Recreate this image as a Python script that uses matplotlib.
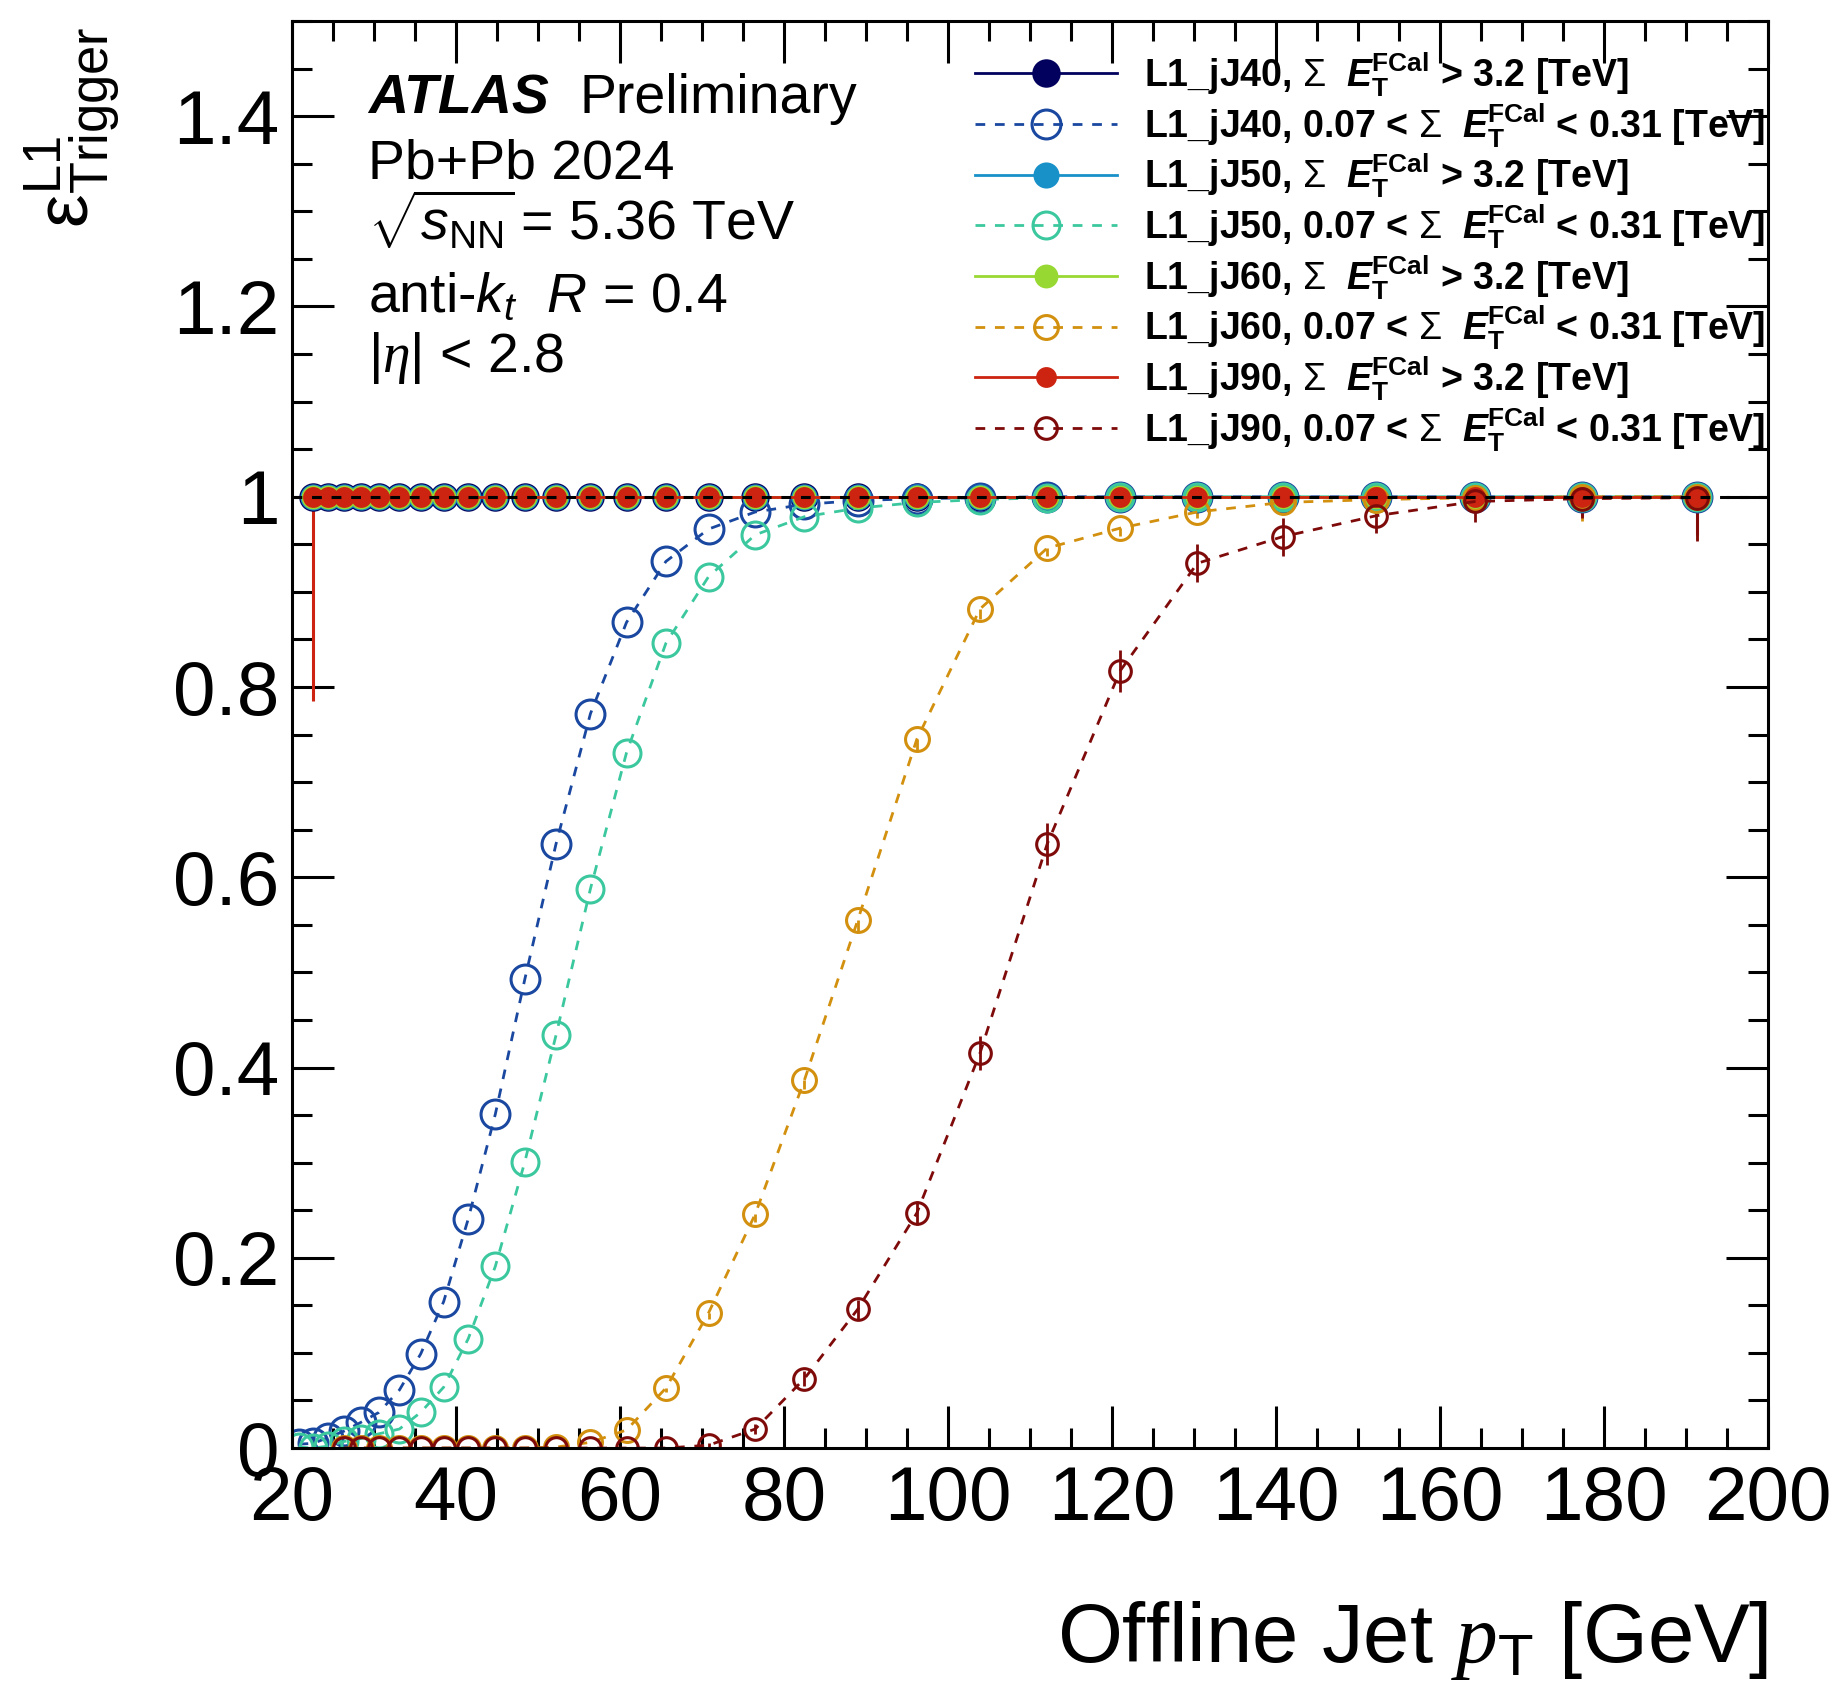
import matplotlib
matplotlib.use("Agg")
import matplotlib.pyplot as plt
from matplotlib.lines import Line2D
from matplotlib.ticker import MultipleLocator, FuncFormatter

plt.rcParams["font.family"] = ["Liberation Sans", "DejaVu Sans"]
plt.rcParams["mathtext.fontset"] = "custom"
plt.rcParams["mathtext.rm"] = "Liberation Sans"
plt.rcParams["mathtext.it"] = "Liberation Sans:italic"
plt.rcParams["mathtext.bf"] = "Liberation Sans:bold"
plt.rcParams["mathtext.bfit"] = "Liberation Sans:italic:bold"
plt.rcParams["mathtext.cal"] = "Liberation Serif:italic"
plt.rcParams["mathtext.sf"] = "Liberation Sans"

# bin centres (GeV)
pt_hi = [22.6, 24.4, 26.4, 28.4, 30.6, 33.1, 35.7, 38.5, 41.5, 44.8, 48.4, 52.2, 56.4, 60.8,
         65.6, 70.8, 76.5, 82.5, 89.0, 96.2, 103.9, 112.1, 121.0, 130.4, 140.8, 152.2,
         164.3, 177.3, 191.4]
pt_lo_40 = [20.8, 22.6, 24.4, 26.4, 28.4, 30.6, 33.1, 35.7, 38.5, 41.5, 44.8, 48.4, 52.2, 56.4,
            60.8, 65.6, 70.8, 76.5, 82.5, 89.0, 96.2, 103.9, 112.1, 121.0, 130.4, 140.8,
            152.2, 164.3, 177.3, 191.4]
pt_lo_60 = [26.4, 28.4, 30.6, 33.1, 35.7, 38.5, 41.5, 44.8, 48.4, 52.2, 56.4, 60.8, 65.6, 70.8,
            76.5, 82.5, 89.0, 96.2, 103.9, 112.1, 121.0, 130.4, 140.8, 152.2, 164.3, 177.3,
            191.4]

# sum ET FCal > 3.2 TeV (central)
eff_j40_hi = [1.0, 1.0, 1.0, 1.0, 1.0, 1.0, 1.0, 1.0, 1.0, 1.0, 1.0, 1.0, 1.0, 1.0, 1.0,
              1.0, 1.0, 1.0, 1.0, 1.0, 1.0, 1.0, 1.0, 1.0, 1.0, 1.0, 1.0, 1.0, 1.0]
eff_j50_hi = [1.0, 1.0, 1.0, 1.0, 1.0, 1.0, 1.0, 1.0, 1.0, 1.0, 1.0, 1.0, 1.0, 1.0, 1.0,
              1.0, 1.0, 1.0, 1.0, 1.0, 1.0, 1.0, 1.0, 1.0, 1.0, 1.0, 1.0, 1.0, 1.0]
eff_j60_hi = [1.0, 1.0, 1.0, 1.0, 1.0, 1.0, 1.0, 1.0, 1.0, 1.0, 1.0, 1.0, 1.0, 1.0, 1.0,
              1.0, 1.0, 1.0, 1.0, 1.0, 1.0, 1.0, 1.0, 1.0, 1.0, 1.0, 1.0, 1.0, 1.0]
eff_j90_hi = [1.0, 1.0, 1.0, 1.0, 1.0, 1.0, 1.0, 1.0, 1.0, 1.0, 1.0, 1.0, 1.0, 1.0, 1.0,
              1.0, 1.0, 1.0, 1.0, 1.0, 1.0, 1.0, 1.0, 1.0, 1.0, 1.0, 1.0, 1.0, 1.0]
err_j90_hi = [0.215, 0, 0, 0, 0, 0, 0, 0, 0, 0, 0, 0, 0, 0, 0, 0, 0, 0, 0, 0, 0, 0, 0, 0,
              0, 0, 0.01, 0.02, 0.04]

# 0.07 < sum ET FCal < 0.31 TeV (peripheral)
eff_j40_lo = [0.004, 0.005, 0.011, 0.018, 0.027, 0.0375, 0.061, 0.099, 0.154, 0.241, 0.351,
              0.493, 0.635, 0.772, 0.868, 0.932, 0.966, 0.984, 0.992, 0.996, 0.998, 0.999,
              1.0, 1.0, 1.0, 1.0, 1.0, 1.0, 1.0, 1.0]
eff_j50_lo = [0.001, 0.0, 0.002, 0.007, 0.010, 0.015, 0.020, 0.0375, 0.064, 0.115, 0.191,
              0.301, 0.434, 0.588, 0.731, 0.846, 0.916, 0.960, 0.979, 0.988, 0.994, 0.997,
              0.999, 1.0, 1.0, 1.0, 1.0, 1.0, 1.0, 1.0]
eff_j60_lo = [0.0, 0.0, 0.0, 0.0, 0.0, 0.0, 0.0, 0.0, 0.0, 0.001, 0.006, 0.019, 0.063, 0.142,
              0.246, 0.387, 0.555, 0.745, 0.882, 0.946, 0.967, 0.984, 0.994, 0.997, 0.999,
              1.0, 1.0]
eff_j90_lo = [0.0, 0.0, 0.0, 0.0, 0.0, 0.0, 0.0, 0.0, 0.0, 0.0, 0.0, 0.0, 0.0, 0.003, 0.02,
              0.073, 0.146, 0.247, 0.415, 0.635, 0.817, 0.930, 0.958, 0.980, 0.995, 0.998,
              0.999]
err_j40_lo = [0, 0, 0, 0, 0, 0, 0, 0, 0, 0, 0, 0, 0, 0, 0, 0, 0, 0, 0, 0, 0, 0, 0, 0, 0,
              0, 0, 0.01, 0.02, 0.03]
err_j50_lo = [0, 0, 0, 0, 0, 0, 0, 0, 0, 0, 0, 0, 0, 0, 0, 0, 0, 0, 0, 0, 0, 0, 0, 0, 0,
              0, 0, 0.01, 0.02, 0.035]
err_j60_lo = [0, 0, 0, 0, 0, 0, 0, 0, 0, 0, 0, 0, 0.004, 0.006, 0.008, 0.01, 0.012, 0.012,
              0.01, 0.008, 0.008, 0.006, 0.006, 0.008, 0.015, 0.025, 0.045]
err_j90_lo_dn = [0, 0, 0, 0, 0, 0, 0, 0, 0, 0, 0, 0, 0, 0.002, 0.005, 0.008, 0.01, 0.013,
                 0.018, 0.022, 0.022, 0.02, 0.02, 0.018, 0.022, 0.02, 0.045]
err_j90_lo_up = [0, 0, 0, 0, 0, 0, 0, 0, 0, 0, 0, 0, 0, 0.002, 0.005, 0.008, 0.01, 0.013,
                 0.018, 0.022, 0.022, 0.02, 0.02, 0.018, 0.005, 0.002, 0.001]

labels = [
    r"L1_jJ40, $\Sigma$  $\mathbfit{E}_{\mathbf{T}}^{\mathbf{FCal}}$ > 3.2 [TeV]",
    r"L1_jJ40, 0.07 < $\Sigma$  $\mathbfit{E}_{\mathbf{T}}^{\mathbf{FCal}}$ < 0.31 [TeV]",
    r"L1_jJ50, $\Sigma$  $\mathbfit{E}_{\mathbf{T}}^{\mathbf{FCal}}$ > 3.2 [TeV]",
    r"L1_jJ50, 0.07 < $\Sigma$  $\mathbfit{E}_{\mathbf{T}}^{\mathbf{FCal}}$ < 0.31 [TeV]",
    r"L1_jJ60, $\Sigma$  $\mathbfit{E}_{\mathbf{T}}^{\mathbf{FCal}}$ > 3.2 [TeV]",
    r"L1_jJ60, 0.07 < $\Sigma$  $\mathbfit{E}_{\mathbf{T}}^{\mathbf{FCal}}$ < 0.31 [TeV]",
    r"L1_jJ90, $\Sigma$  $\mathbfit{E}_{\mathbf{T}}^{\mathbf{FCal}}$ > 3.2 [TeV]",
    r"L1_jJ90, 0.07 < $\Sigma$  $\mathbfit{E}_{\mathbf{T}}^{\mathbf{FCal}}$ < 0.31 [TeV]",
]
colors = ["#02025e", "#1a48a0", "#1890c8", "#3cc89e", "#98d832", "#d2900e", "#cc2410", "#7e0a0a"]

fig = plt.figure(figsize=(18.34, 17.0), dpi=100)
ax = fig.add_axes([0.1592, 0.1482, 0.8048, 0.8394])

dash = (0, (3.5, 3.5))
series = [
    (pt_hi, eff_j40_hi, [[0] * 29, [0] * 29], "filled", 20.5),
    (pt_lo_40, eff_j40_lo, [err_j40_lo, [0] * 30], "open", 20.8),
    (pt_hi, eff_j50_hi, [[0] * 29, [0] * 29], "filled", 18.8),
    (pt_lo_40, eff_j50_lo, [err_j50_lo, [0] * 30], "open", 19.4),
    (pt_hi, eff_j60_hi, [[0] * 29, [0] * 29], "filled", 17.2),
    (pt_lo_60, eff_j60_lo, [err_j60_lo, [0] * 27], "open", 17.2),
    (pt_hi, eff_j90_hi, [err_j90_hi, [0] * 29], "filled", 15.0),
    (pt_lo_60, eff_j90_lo, [err_j90_lo_dn, err_j90_lo_up], "open", 15.6),
]

handles = []
for (x, y, err, kind, ms), c in zip(series, colors):
    if kind == "filled":
        ax.errorbar(x, y, yerr=err, color=c, lw=2.0, elinewidth=2.2, marker="o", ms=ms,
                    mec=c, mew=0, mfc=c, capsize=0)
        handles.append(Line2D([], [], color=c, lw=2.0, marker="o", ms=ms, mew=0))
    else:
        ax.errorbar(x, y, yerr=err, color=c, lw=2.0, ls=dash, elinewidth=2.0, marker="o",
                    ms=ms, mec=c, mew=2.2, mfc="none", capsize=0)
        handles.append(Line2D([], [], color=c, lw=2.0, ls=dash, marker="o", ms=ms,
                              mew=2.2, mfc="none"))

ax.axhline(1.0, color="black", lw=2.2, ls=(0, (3.2, 3.2)), zorder=10)

ax.set_xlim(20, 200)
ax.set_ylim(0, 1.5)
ax.xaxis.set_major_locator(MultipleLocator(20))
ax.xaxis.set_minor_locator(MultipleLocator(5))
ax.yaxis.set_major_locator(MultipleLocator(0.2))
ax.yaxis.set_minor_locator(MultipleLocator(0.05))
ax.yaxis.set_major_formatter(FuncFormatter(lambda v, p: f"{v:g}"))
ax.tick_params(which="both", direction="in", top=True, right=True, width=2.2)
ax.tick_params(which="major", length=30, labelsize=55)
ax.tick_params(which="minor", length=14.5)
ax.tick_params(axis="x", pad=12)
ax.tick_params(axis="y", pad=9)
for s in ax.spines.values():
    s.set_linewidth(2.2)

ax.text(1.0, -0.15, r"Offline Jet $\mathcal{p}_{\mathrm{T}}$ [GeV]", transform=ax.transAxes,
        ha="right", va="baseline", fontsize=60)
ax.text(-0.149, 0.9965, r"$\mathrm{\varepsilon}^{\mathrm{L1}}_{\mathrm{Trigger}}$",
        transform=ax.transAxes, rotation=90, ha="center", va="top", fontsize=54)

# ATLAS label block
ax.text(0.0515, 0.9355, "ATLAS", transform=ax.transAxes, fontsize=40,
        fontweight="bold", fontstyle="italic", va="baseline")
ax.text(0.1945, 0.9355, "Preliminary", transform=ax.transAxes, fontsize=40, va="baseline")
ax.text(0.0515, 0.890, "Pb+Pb 2024", transform=ax.transAxes, fontsize=40, va="baseline")
ax.text(0.0515, 0.8465, r"$\sqrt{s_{\mathrm{NN}}}\,$= 5.36 TeV", transform=ax.transAxes,
        fontsize=40, va="baseline")
ax.text(0.0515, 0.796, r"anti-$k_{t}$  $R$ = 0.4", transform=ax.transAxes, fontsize=40,
        va="baseline")
ax.text(0.0515, 0.754, r"|$\mathcal{\eta}$| < 2.8", transform=ax.transAxes, fontsize=40,
        va="baseline")

ax.legend(handles, labels, loc="upper left", bbox_to_anchor=(0.5316, 0.9705),
          bbox_transform=fig.transFigure, frameon=False, borderpad=0, borderaxespad=0,
          handlelength=3.79, handletextpad=0.72, labelspacing=0.05,
          prop={"size": 27, "weight": "bold"})

plt.savefig("out.png", dpi=100)
